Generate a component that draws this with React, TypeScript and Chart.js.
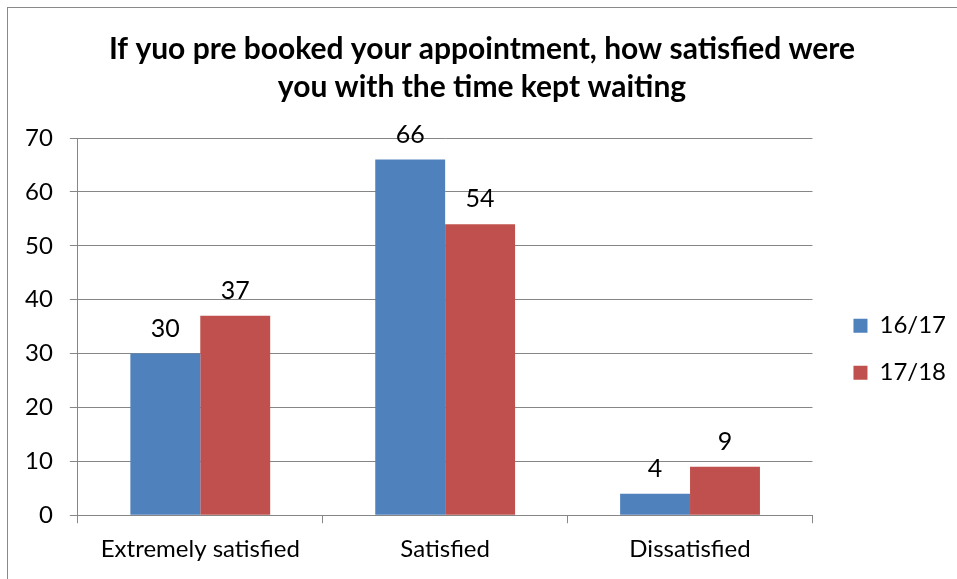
import { useEffect, useRef } from "react";
import { Chart, registerables } from "chart.js";

Chart.register(...registerables);

const categories = ["Extremely satisfied", "Satisfied", "Dissatisfied"];
const seriesNames = ["16/17", "17/18"];
const values1617 = [30, 66, 4];
const values1718 = [37, 54, 9];
const titleLines = [
  "If yuo pre booked your appointment, how satisfied were",
  "you with the time kept waiting",
];
const yMin = 0;
const yMax = 70;
const yStep = 10;

const FONT = "Lato, 'Open Sans', sans-serif";

const dataLabels = {
  id: "dataLabels",
  afterDatasetsDraw(chart: any) {
    const ctx = chart.ctx;
    ctx.save();
    ctx.fillStyle = "#000";
    ctx.font = `25px ${FONT}`;
    ctx.textAlign = "center";
    ctx.textBaseline = "alphabetic";
    chart.data.datasets.forEach((ds: any, i: number) => {
      const meta = chart.getDatasetMeta(i);
      meta.data.forEach((el: any, j: number) => {
        ctx.fillText(String(ds.data[j]), el.x, el.y - 17);
      });
    });
    ctx.restore();
  },
};

export default function App() {
  const ref = useRef<HTMLCanvasElement>(null);
  useEffect(() => {
    document.body.style.margin = "0";
    const chart = new Chart(ref.current!, {
      type: "bar",
      data: {
        labels: categories,
        datasets: [
          {
            label: seriesNames[0],
            data: values1617,
            backgroundColor: "#4F81BD",
            borderWidth: 0,
            categoryPercentage: 0.571,
            barPercentage: 1,
          },
          {
            label: seriesNames[1],
            data: values1718,
            backgroundColor: "#C0504D",
            borderWidth: 0,
            categoryPercentage: 0.571,
            barPercentage: 1,
          },
        ],
      },
      options: {
        responsive: false,
        animation: false,
        devicePixelRatio: 1,
        layout: { padding: { left: 0, right: 18, top: 0, bottom: 12 } },
        plugins: {
          title: {
            display: true,
            text: titleLines,
            color: "#000",
            font: { family: FONT, size: 30, weight: "bold", lineHeight: 1.25 },
            padding: { top: 23, bottom: 32 },
          },
          legend: {
            position: "right",
            title: { display: true, text: "", padding: { top: 100, bottom: 0 } },
            labels: {
              color: "#000",
              font: { family: FONT, size: 24 },
              boxWidth: 14,
              boxHeight: 14,
              padding: 23,
            },
          },
          tooltip: { enabled: false },
        },
        scales: {
          x: {
            grid: {
              drawOnChartArea: false,
              drawTicks: true,
              tickLength: 8,
              color: "#868686",
              offset: true,
            },
            border: { display: true, color: "#868686" },
            ticks: { color: "#000", font: { family: FONT, size: 24 }, padding: 12 },
          },
          y: {
            min: yMin,
            max: yMax,
            ticks: {
              stepSize: yStep,
              color: "#000",
              font: { family: FONT, size: 24 },
              padding: 17,
            },
            grid: { color: "#868686", tickLength: 8 },
            border: { display: true, color: "#868686" },
          },
          gap: {
            type: "linear",
            position: "right",
            display: true,
            grid: { display: false, drawOnChartArea: false },
            border: { display: false },
            ticks: { display: false },
            afterFit: (scale: any) => {
              scale.width = 18;
            },
          },
        },
      },
      plugins: [dataLabels],
    });
    return () => chart.destroy();
  }, []);
  return (
    <div
      style={{
        position: "absolute",
        left: 7,
        top: 7,
        width: 950,
        height: 572,
        overflow: "hidden",
        borderLeft: "1px solid #898989",
        borderTop: "1px solid #898989",
        background: "#fff",
      }}
    >
      <canvas ref={ref} width={966} height={580} style={{ display: "block" }} />
    </div>
  );
}
